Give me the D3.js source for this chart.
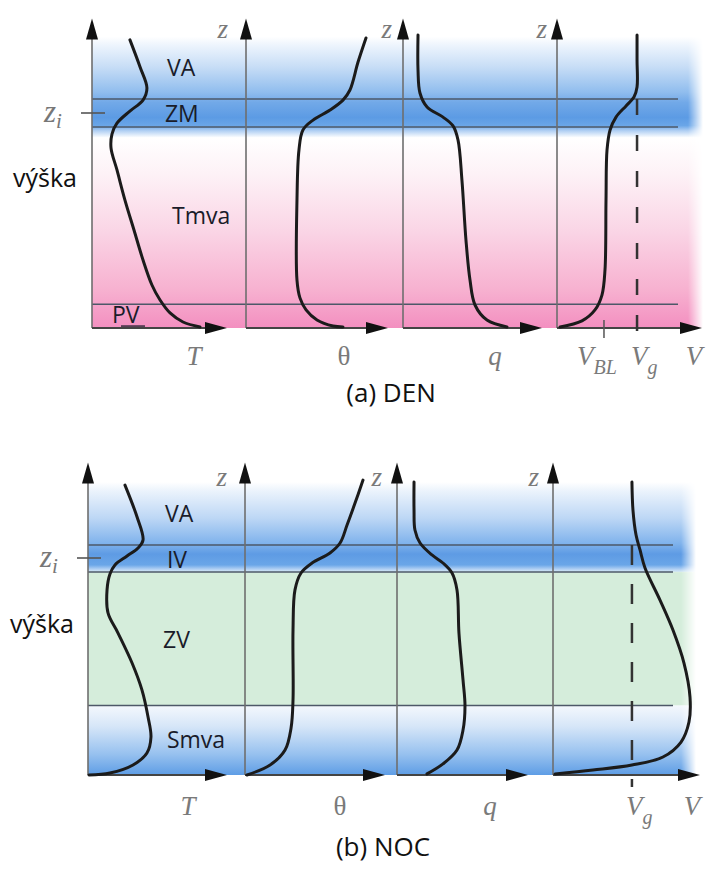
<!DOCTYPE html>
<html><head><meta charset="utf-8">
<script src="https://cdn.jsdelivr.net/npm/d3@7"></script>
<style>body{margin:0;background:#fff}svg{display:block}</style>
</head><body>
<svg id="c" width="727" height="872"></svg>
<script>
// ---------------- DATA ----------------
const panelTitles = ["(a) DEN", "(b) NOC"];
const variableNames = ["T", "θ", "q", "V"];
const dayLayerNames = ["VA", "ZM", "Tmva", "PV"];
const nightLayerNames = ["VA", "IV", "ZV", "Smva"];
const heightLabel = "výška";
// layer boundaries in z / z_i
const dayBoundaries = [0.11, 0.935, 1.065];
const nightBoundaries = [0.32, 0.935, 1.06];
// wind reference values (fraction of V axis)
const dayVBL = 0.324;
const dayVg = 0.552;
const nightVg = 0.537;
// profiles: [value (fraction of axis), z / z_i]
const dayT = [[0.281,1.340],[0.356,1.214],[0.407,1.116],[0.378,1.060],[0.281,1.009],[0.185,0.953],[0.148,0.902],[0.141,0.837],[0.185,0.735],[0.244,0.595],[0.311,0.456],[0.378,0.316],[0.444,0.200],[0.504,0.130],[0.578,0.070],[0.674,0.028],[0.800,0.005]];
const dayTheta = [[0.845,1.349],[0.789,1.237],[0.732,1.107],[0.683,1.060],[0.592,1.014],[0.472,0.967],[0.401,0.921],[0.373,0.828],[0.359,0.595],[0.359,0.223],[0.380,0.140],[0.423,0.084],[0.500,0.037],[0.613,0.009],[0.683,0.005]];
const dayQ = [[0.108,1.363],[0.108,1.200],[0.122,1.093],[0.173,1.028],[0.288,0.981],[0.360,0.940],[0.396,0.874],[0.424,0.688],[0.453,0.409],[0.482,0.223],[0.518,0.107],[0.604,0.037],[0.748,0.005]];
const dayV = [[0.552,1.363],[0.552,1.247],[0.552,1.121],[0.531,1.074],[0.476,1.033],[0.407,0.981],[0.366,0.921],[0.345,0.828],[0.338,0.595],[0.331,0.270],[0.310,0.153],[0.262,0.084],[0.172,0.033],[0.021,0.005]];
const nightT = [[0.266,1.336],[0.353,1.189],[0.396,1.083],[0.360,1.046],[0.281,1.009],[0.194,0.968],[0.158,0.926],[0.137,0.853],[0.144,0.747],[0.216,0.654],[0.317,0.516],[0.388,0.392],[0.432,0.267],[0.453,0.175],[0.424,0.101],[0.324,0.046],[0.158,0.009],[0.007,0.000]];
const nightTheta = [[0.843,1.359],[0.786,1.253],[0.729,1.152],[0.679,1.069],[0.607,1.023],[0.479,0.977],[0.400,0.931],[0.357,0.853],[0.343,0.668],[0.343,0.346],[0.329,0.217],[0.286,0.115],[0.179,0.046],[0.014,0.000]];
const nightQ = [[0.130,1.350],[0.130,1.221],[0.137,1.129],[0.176,1.069],[0.267,1.014],[0.351,0.977],[0.420,0.931],[0.458,0.853],[0.473,0.654],[0.504,0.438],[0.519,0.318],[0.504,0.207],[0.458,0.115],[0.351,0.051],[0.229,0.005]];
const nightV = [[0.537,1.350],[0.544,1.221],[0.565,1.106],[0.592,1.037],[0.626,0.954],[0.728,0.806],[0.816,0.668],[0.891,0.516],[0.932,0.359],[0.925,0.244],[0.871,0.152],[0.748,0.083],[0.537,0.046],[0.272,0.023],[0.014,0.005]];

// ---------------- LAYOUT ----------------
const panels = [
  {axisY:328, ziY:113, xs:[92,246,403,557], tips:[227,388,542,702], right:700, lineEnd:678,
   profiles:[dayT,dayTheta,dayQ,dayV], bounds:dayBoundaries, layers:dayLayerNames,
   layerPos:[[0.556,1.172],[0.54,0.958],[0.593,0.484],[0.148,0.023]], labelY:365, zLabelY:38,
   zOff:[18,11,10],
   vg:dayVg, vbl:dayVBL, vgTop:1.065, heightY:187, heightX:13, titleX:391, titleY:402, title:panelTitles[0]},
  {axisY:775, ziY:558, xs:[88,245,397,553], tips:[227,385,528,700], right:693, lineEnd:673,
   profiles:[nightT,nightTheta,nightQ,nightV], bounds:nightBoundaries, layers:nightLayerNames,
   layerPos:[[0.554,1.166],[0.568,0.954],[0.54,0.585],[0.568,0.124]], labelY:815, zLabelY:486,
   zOff:[18,15,14],
   vg:nightVg, vbl:null, vgTop:1.06, heightY:633, heightX:10, titleX:383, titleY:856, title:panelTitles[1]}
];

const svg = d3.select("#c");
const defs = svg.append("defs");
const SANS = "'Open Sans', 'Noto Sans', sans-serif";
const SERIF = "'Liberation Serif', 'DejaVu Serif', serif";

function vGrad(id, y1, y2, stops){
  const g = defs.append("linearGradient").attr("id", id)
    .attr("gradientUnits","userSpaceOnUse").attr("x1",0).attr("x2",0).attr("y1",y1).attr("y2",y2);
  stops.forEach(s => g.append("stop").attr("offset", s[0]).attr("stop-color", s[1]));
}

panels.forEach((p, pi) => {
  const zs = d3.scaleLinear().domain([0,1]).range([p.axisY, p.ziY]);
  const xsc = p.xs.map((x,i) => d3.scaleLinear().domain([0,1]).range([x, p.tips[i]]));
  const left = p.xs[0];

  // right edge fade mask
  const mg = defs.append("linearGradient").attr("id","mg"+pi).attr("gradientUnits","userSpaceOnUse")
    .attr("x1", p.right-12).attr("x2", p.right+3).attr("y1",0).attr("y2",0);
  mg.append("stop").attr("offset",0).attr("stop-color","#fff");
  mg.append("stop").attr("offset",1).attr("stop-color","#000");
  const mask = defs.append("mask").attr("id","mask"+pi).attr("maskUnits","userSpaceOnUse")
    .attr("x",0).attr("y",0).attr("width",727).attr("height",872);
  mask.append("rect").attr("x",0).attr("y",0).attr("width",727).attr("height",872).attr("fill","url(#mg"+pi+")");

  const bg = svg.append("g").attr("mask","url(#mask"+pi+")");
  const W = p.right + 4 - left;

  if (pi === 0) {
    const b0 = zs(1.355), b1 = zs(0.885);
    vGrad("blueA", b0, b1, [[0,"#ffffff"],[0.08,"#eef5fd"],[0.3,"#c7ddf6"],[0.55,"#90bdee"],[0.65,"#72a9e8"],[0.8,"#5c9be4"],[0.88,"#6aa6e8"],[0.93,"#b0cff3"],[1,"#ffffff"]]);
    bg.append("rect").attr("x",left).attr("y",b0).attr("width",W).attr("height",b1-b0).attr("fill","url(#blueA)");
    const p0 = zs(0.885), p1 = zs(0);
    vGrad("pinkA", p0, p1, [[0,"#ffffff"],[0.2,"#fdf1f6"],[0.5,"#fad4e5"],[0.8,"#f7b1d0"],[1,"#f38fc0"]]);
    bg.append("rect").attr("x",left).attr("y",p0).attr("width",W).attr("height",p1-p0).attr("fill","url(#pinkA)");
  } else {
    const b0 = zs(1.35), b1 = zs(0.935);
    vGrad("blueB", b0, b1, [[0,"#ffffff"],[0.1,"#ebf3fc"],[0.4,"#bdd7f5"],[0.68,"#80b3ec"],[0.8,"#5e9be4"],[0.92,"#6aa6e8"],[0.97,"#b5d2f4"],[1,"#d8ecf0"]]);
    bg.append("rect").attr("x",left).attr("y",b0).attr("width",W).attr("height",b1-b0).attr("fill","url(#blueB)");
    const g0 = zs(0.935), g1 = zs(0.32);
    bg.append("rect").attr("x",left).attr("y",g0).attr("width",W).attr("height",g1-g0).attr("fill","#d5eddb");
    const s0 = zs(0.32), s1 = zs(0);
    vGrad("blueB2", s0, s1, [[0,"#f4f8fd"],[0.3,"#d6e6f8"],[0.7,"#97c1ef"],[1,"#5e9de5"]]);
    bg.append("rect").attr("x",left).attr("y",s0).attr("width",W).attr("height",s1-s0).attr("fill","url(#blueB2)");
  }

  // layer boundary lines
  svg.append("g").selectAll("line").data(p.bounds).join("line")
    .attr("x1", left).attr("x2", p.lineEnd)
    .attr("y1", d => zs(d)).attr("y2", d => zs(d))
    .attr("stroke","#4d5868").attr("stroke-width",1.5);

  // axes
  const tipZ = 1.44;
  const ax = svg.append("g");
  p.xs.forEach((x,i) => {
    const ty = zs(tipZ);
    ax.append("line").attr("x1",x).attr("x2",x).attr("y1",p.axisY).attr("y2",ty+18)
      .attr("stroke","#6e6e6e").attr("stroke-width",1.6);
    ax.append("path").attr("d",`M${x},${ty}L${x-6},${ty+21}L${x+6},${ty+21}Z`).attr("fill","#111");
    const tx = xsc[i](1);
    ax.append("line").attr("x1",x).attr("x2",tx-18).attr("y1",p.axisY).attr("y2",p.axisY)
      .attr("stroke","#444").attr("stroke-width",2);
    ax.append("path").attr("d",`M${tx},${p.axisY}L${tx-22},${p.axisY-6}L${tx-22},${p.axisY+6}Z`).attr("fill","#111");
  });

  // Vg dashed line
  const vx = xsc[3](p.vg);
  svg.append("line").attr("x1",vx).attr("x2",vx).attr("y1",zs(p.vgTop)).attr("y2",p.axisY+(pi===0?8:12))
    .attr("stroke","#333").attr("stroke-width",2.5).attr("stroke-dasharray", pi===0 ? "16,20" : "20,19");
  if (p.vbl !== null) {
    const bx = xsc[3](p.vbl);
    svg.append("line").attr("x1",bx).attr("x2",bx).attr("y1",p.axisY-8).attr("y2",p.axisY+10)
      .attr("stroke","#555").attr("stroke-width",1.5);
  }

  // profiles
  p.profiles.forEach((prof, i) => {
    const line = d3.line().x(d => xsc[i](d[0])).y(d => zs(d[1])).curve(d3.curveCatmullRom.alpha(0.5));
    svg.append("path").attr("d", line(prof)).attr("fill","none")
      .attr("stroke","#1b1b1b").attr("stroke-width",3).attr("stroke-linecap","round");
  });

  // z_i tick & label
  svg.append("line").attr("x1",left-11).attr("x2",left+13).attr("y1",zs(1)).attr("y2",zs(1))
    .attr("stroke","#555").attr("stroke-width",1.6);
  const zi = svg.append("text").attr("x", left-48).attr("y", zs(1)+9)
    .attr("font-family",SERIF).attr("font-style","italic").attr("font-size",31).attr("fill","#777");
  zi.append("tspan").text("z");
  zi.append("tspan").attr("font-size",21).attr("dy",6).text("i");

  // z labels on axes 2-4
  p.xs.slice(1).forEach((x, k) => {
    svg.append("text").attr("x", x-p.zOff[k]).attr("y", p.zLabelY).attr("text-anchor","end")
      .attr("font-family",SERIF).attr("font-style","italic").attr("font-size",27).attr("fill","#7a7a7a").text("z");
  });

  // layer labels
  p.layers.forEach((name, i) => {
    const pos = p.layerPos[i];
    svg.append("text").attr("x", xsc[0](pos[0])).attr("y", zs(pos[1]))
      .attr("font-family",SANS).attr("font-size",23).attr("fill","#1a1c2a").text(name);
  });
  if (pi === 0) {
    const pos = p.layerPos[3];
    svg.append("line").attr("x1", xsc[0](pos[0])+9).attr("x2", xsc[0](pos[0])+33)
      .attr("y1", zs(pos[1])+3).attr("y2", zs(pos[1])+3).attr("stroke","#1a1c2a").attr("stroke-width",1.3);
  }

  // height label
  svg.append("text").attr("x", p.heightX).attr("y", p.heightY)
    .attr("font-family",SANS).attr("font-size",25).attr("fill","#111").text(heightLabel);

  // variable labels
  const labX = pi===0 ? [194,344,495,694] : [188,340,490,692];
  variableNames.forEach((v,i) => {
    svg.append("text").attr("x", labX[i]).attr("y", p.labelY).attr("text-anchor","middle")
      .attr("font-family",SERIF).attr("font-style", v==="θ" ? "normal" : "italic")
      .attr("font-size",27).attr("fill","#7a7a7a").text(v);
  });
  // Vg label
  const g = svg.append("text").attr("x", vx-6).attr("y", p.labelY)
    .attr("font-family",SERIF).attr("font-style","italic").attr("font-size",27).attr("fill","#7a7a7a");
  g.append("tspan").text("V");
  g.append("tspan").attr("font-size",20).attr("dy",9).text("g");
  if (p.vbl !== null) {
    const b = svg.append("text").attr("x", xsc[3](p.vbl)-27).attr("y", p.labelY)
      .attr("font-family",SERIF).attr("font-style","italic").attr("font-size",27).attr("fill","#7a7a7a");
    b.append("tspan").text("V");
    b.append("tspan").attr("font-size",20).attr("dy",9).text("BL");
  }

  // title
  svg.append("text").attr("x", p.titleX).attr("y", p.titleY).attr("text-anchor","middle")
    .attr("font-family",SANS).attr("font-size",26).attr("fill","#111").text(p.title);
});
</script>
</body></html>
